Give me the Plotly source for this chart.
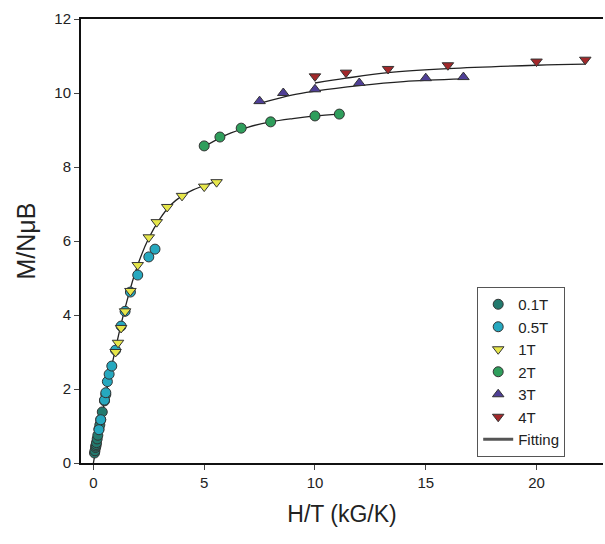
import plotly.graph_objects as go

# ---- data ----
x_01T = [0.05, 0.07, 0.10, 0.11, 0.125, 0.14, 0.17, 0.20, 0.25, 0.29, 0.33, 0.40, 0.50, 0.56]
y_01T = [0.27, 0.33, 0.42, 0.46, 0.50, 0.55, 0.65, 0.75, 0.92, 1.03, 1.17, 1.38, 1.68, 1.85]

x_05T = [0.25, 0.33, 0.50, 0.56, 0.63, 0.71, 0.83, 1.00, 1.25, 1.43, 1.67, 2.00, 2.50, 2.78]
y_05T = [0.90, 1.17, 1.70, 1.90, 2.20, 2.40, 2.62, 3.05, 3.70, 4.10, 4.62, 5.08, 5.57, 5.78]

x_1T = [1.00, 1.11, 1.25, 1.43, 1.67, 2.00, 2.50, 2.86, 3.33, 4.00, 5.00, 5.56]
y_1T = [3.00, 3.25, 3.65, 4.10, 4.65, 5.35, 6.10, 6.51, 6.92, 7.22, 7.47, 7.59]

x_2T = [5.00, 5.71, 6.67, 8.00, 10.0, 11.1]
y_2T = [8.57, 8.81, 9.05, 9.22, 9.38, 9.43]

x_3T = [7.50, 8.57, 10.0, 12.0, 15.0, 16.7]
y_3T = [9.78, 10.00, 10.10, 10.27, 10.40, 10.43]

x_4T = [10.0, 11.4, 13.3, 16.0, 20.0, 22.2]
y_4T = [10.45, 10.55, 10.65, 10.75, 10.85, 10.90]

fit_low_x = [0.0, 0.5, 1.0, 1.5, 2.0, 2.5, 3.0, 3.5, 4.0, 4.5, 5.0, 5.6]
fit_low_y = [0.0, 1.65, 3.10, 4.35, 5.35, 6.08, 6.60, 6.98, 7.22, 7.38, 7.50, 7.62]
fit_2T_x = [5.0, 6.0, 7.0, 8.0, 9.0, 10.0, 11.1]
fit_2T_y = [8.55, 8.87, 9.08, 9.22, 9.31, 9.38, 9.43]
fit_3T_x = [7.5, 9.0, 10.0, 12.0, 14.0, 16.7]
fit_3T_y = [9.72, 9.95, 10.05, 10.20, 10.31, 10.38]
fit_4T_x = [10.0, 11.4, 13.3, 16.0, 20.0, 22.2]
fit_4T_y = [10.27, 10.40, 10.55, 10.66, 10.75, 10.78]

x_ticks = [0, 5, 10, 15, 20]
y_ticks = [0, 2, 4, 6, 8, 10, 12]

series = [
    ("0.1T", x_01T, y_01T, "circle", "#227a6e"),
    ("0.5T", x_05T, y_05T, "circle", "#26a8bf"),
    ("1T", x_1T, y_1T, "triangle-down", "#e6e64a"),
    ("2T", x_2T, y_2T, "circle", "#2f9e5c"),
    ("3T", x_3T, y_3T, "triangle-up", "#4f3f96"),
    ("4T", x_4T, y_4T, "triangle-down", "#a3282a"),
]
fits = [(fit_low_x, fit_low_y), (fit_2T_x, fit_2T_y), (fit_3T_x, fit_3T_y), (fit_4T_x, fit_4T_y)]

fig = go.Figure()
for i, (fx, fy) in enumerate(fits):
    fig.add_trace(go.Scatter(
        x=fx, y=fy, mode="lines", line=dict(color="#222222", width=1.3, shape="spline"),
        name="Fitting", showlegend=False,
    ))
for name, xs, ys, sym, col in series:
    fig.add_trace(go.Scatter(
        x=xs, y=ys, mode="markers", name=name,
        marker=dict(symbol=sym, size=10, color=col, line=dict(color="#333333", width=1)),
    ))
# legend entry for fitting lines (double line look)
fig.add_trace(go.Scatter(
    x=[None], y=[None], mode="lines", name="Fitting",
    line=dict(color="#555555", width=3),
))

font_family = "Liberation Sans, Arial, sans-serif"
fig.update_layout(
    width=605, height=544,
    margin=dict(l=81, r=2, t=19, b=81),
    paper_bgcolor="white", plot_bgcolor="white",
    font=dict(family=font_family, color="#222222", size=14),
    legend=dict(
        x=0.759, y=0.0135, xanchor="left", yanchor="bottom",
        bgcolor="white", bordercolor="#555555", borderwidth=1,
        font=dict(size=15), itemwidth=30, tracegroupgap=0,
    ),
    showlegend=True,
)
fig.update_xaxes(
    range=[-0.56, 23.0], tickvals=x_ticks, ticktext=[str(t) for t in x_ticks],
    showgrid=False, zeroline=False, showline=True, linecolor="#111111", linewidth=2,
    mirror=True, ticks="outside", ticklen=5, tickcolor="#444444",
    tickfont=dict(size=15),
    title=dict(text="H/T (kG/K)", font=dict(size=23), standoff=16),
)
fig.update_yaxes(
    range=[0, 12], tickvals=y_ticks, ticktext=[str(t) for t in y_ticks],
    showgrid=False, zeroline=False, showline=True, linecolor="#111111", linewidth=2,
    ticks="outside", ticklen=5, tickcolor="#444444",
    tickfont=dict(size=15),
    title=dict(text="M/NμB", font=dict(size=25), standoff=12),
)
fig.write_html("out.html")
